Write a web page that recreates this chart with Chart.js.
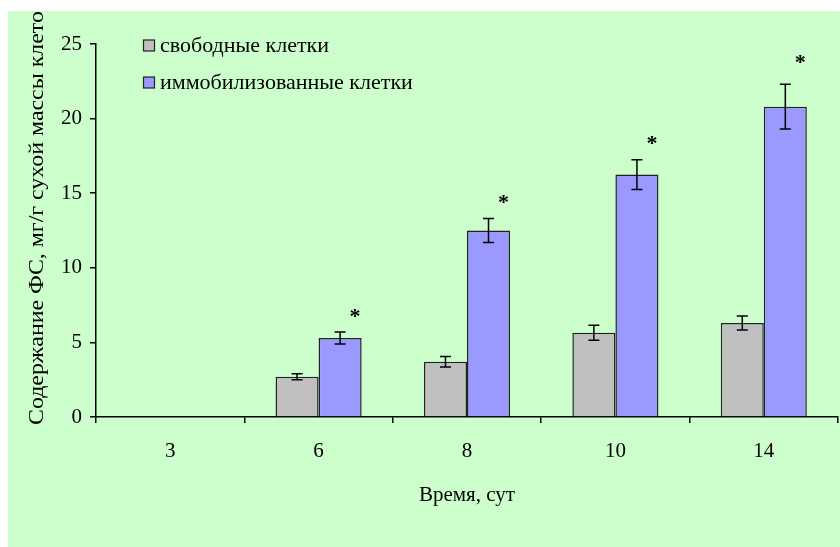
<!DOCTYPE html>
<html>
<head>
<meta charset="utf-8">
<script src="https://cdn.jsdelivr.net/npm/chart.js@4/dist/chart.umd.min.js"></script>
<style>
  html, body { margin: 0; padding: 0; background: #fff; }
  #wrap { position: absolute; left: 8px; top: 11px; width: 832px; height: 536px; background: #ccffcc; }
</style>
</head>
<body>
<div id="wrap"><canvas id="chart" width="832" height="536"></canvas></div>
<script>
// data
const days = ['3', '6', '8', '10', '14'];
const freeCells = [null, 2.7, 3.7, 5.65, 6.3];
const freeErr = [null, 0.2, 0.35, 0.5, 0.47];
const immobCells = [null, 5.3, 12.5, 16.25, 20.8];
const immobErr = [null, 0.4, 0.8, 1.0, 1.5];
const significant = [false, true, true, true, true];
const yTicks = [0, 5, 10, 15, 20, 25];

const FONT = '"Liberation Serif", "Times New Roman", serif';

// error bars, stars, legend and axis titles
const extras = {
    id: 'extras',
    afterDatasetsDraw(chart) {
        const ctx = chart.ctx;
        const y = chart.scales.y;
        const errs = [freeErr, immobErr];
        ctx.save();
        ctx.strokeStyle = '#000';
        ctx.lineWidth = 1.5;
        chart.data.datasets.forEach((ds, i) => {
            chart.getDatasetMeta(i).data.forEach((bar, j) => {
                if (ds.data[j] == null) return;
                const e = errs[i][j];
                const top = y.getPixelForValue(ds.data[j] + e);
                const bot = y.getPixelForValue(ds.data[j] - e);
                ctx.beginPath();
                ctx.moveTo(bar.x, top); ctx.lineTo(bar.x, bot);
                ctx.moveTo(bar.x - 5.5, top); ctx.lineTo(bar.x + 5.5, top);
                ctx.moveTo(bar.x - 5.5, bot); ctx.lineTo(bar.x + 5.5, bot);
                ctx.stroke();
                if (i === 1 && significant[j]) {
                    ctx.fillStyle = '#000';
                    ctx.font = 'bold 22px ' + FONT;
                    ctx.textAlign = 'center';
                    ctx.textBaseline = 'middle';
                    ctx.fillText('*', bar.x + 15, top - 15 - (j === 4 ? 6 : 0));
                }
            });
        });
        ctx.restore();
    },
    afterDraw(chart) {
        const ctx = chart.ctx;
        const area = chart.chartArea;
        ctx.save();
        // legend
        ctx.font = '22px ' + FONT;
        ctx.textBaseline = 'middle';
        ctx.textAlign = 'left';
        chart.data.datasets.forEach((ds, i) => {
            const cy = 35 + i * 37;
            ctx.fillStyle = ds.backgroundColor;
            ctx.fillRect(135.5, cy - 6, 11, 11);
            ctx.strokeStyle = '#222';
            ctx.lineWidth = 1.2;
            ctx.strokeRect(135.5, cy - 6, 11, 11);
            ctx.fillStyle = '#000';
            ctx.fillText(ds.label, 152, cy);
        });
        // x title
        ctx.font = '21px ' + FONT;
        ctx.textAlign = 'center';
        ctx.fillText('Время, сут', (area.left + area.right) / 2, 484);
        // y title
        ctx.font = '22px ' + FONT;
        ctx.translate(35, 414);
        ctx.rotate(-Math.PI / 2);
        ctx.scale(1.085, 1);
        ctx.textAlign = 'left';
        ctx.textBaseline = 'alphabetic';
        ctx.fillText('Содержание ФС, мг/г сухой массы клеток', 0, 0);
        ctx.restore();
    }
};

new Chart(document.getElementById('chart'), {
    type: 'bar',
    data: {
        labels: days,
        datasets: [
            {
                label: 'свободные клетки',
                data: freeCells,
                backgroundColor: '#c0c0c0',
                borderColor: '#222',
                borderWidth: 1.5,
                categoryPercentage: 0.58,
                barPercentage: 1.0,
            },
            {
                label: 'иммобилизованные клетки',
                data: immobCells,
                backgroundColor: '#9999ff',
                borderColor: '#222',
                borderWidth: 1.5,
                categoryPercentage: 0.58,
                barPercentage: 1.0,
            },
        ],
    },
    options: {
        responsive: false,
        animation: false,
        layout: { padding: { top: 33, right: 2, left: 0, bottom: 0 } },
        plugins: {
            legend: { display: false },
            tooltip: { enabled: false },
        },
        scales: {
            x: {
                offset: true,
                grid: { offset: true, drawOnChartArea: false, drawTicks: true, tickLength: 6, color: '#000', lineWidth: 1.5 },
                border: { color: '#000', width: 1.5 },
                ticks: { color: '#000', padding: 16, font: { family: FONT, size: 21 } },
                afterFit: (s) => { s.height = 130; },
            },
            y: {
                min: 0,
                max: 25,
                afterBuildTicks: (s) => { s.ticks = yTicks.map(v => ({ value: v })); },
                grid: { drawOnChartArea: false, drawTicks: true, tickLength: 6, color: '#000', lineWidth: 1.5 },
                border: { color: '#000', width: 1.5 },
                ticks: { color: '#000', padding: 8, font: { family: FONT, size: 21 } },
                afterFit: (s) => { s.width = 88; },
            },
        },
    },
    plugins: [extras],
});
</script>
</body>
</html>
